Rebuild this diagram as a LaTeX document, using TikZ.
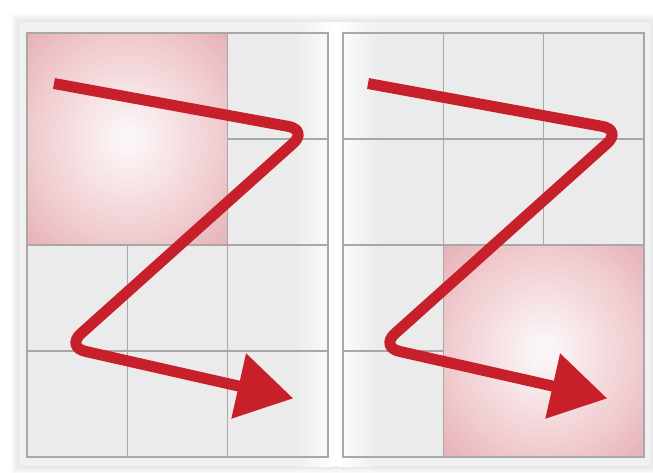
\documentclass[tikz,border=0pt]{standalone}
\usetikzlibrary{arrows.meta}
\definecolor{zred}{HTML}{C8202A}
\definecolor{pagegray}{HTML}{F1F1F1}
\definecolor{cellgray}{HTML}{EBEBEB}
\definecolor{cellwhite}{HTML}{FAFAFA}
\definecolor{gridline}{HTML}{A8A8A8}
\definecolor{pinkcenter}{HTML}{FBF4F5}
\definecolor{pinkedge}{HTML}{EFC8CC}
\definecolor{pinkcorner}{HTML}{E5AFB5}
\pgfdeclareradialshading{pinkglow}{\pgfpoint{0bp}{0bp}}{color(0bp)=(pinkcenter);
  color(3bp)=(pinkcenter); color(25bp)=(pinkedge); color(36bp)=(pinkcorner);
  color(50bp)=(pinkcorner)}

\begin{document}
\begin{tikzpicture}[
      x=0.5pt, y=-0.5pt,
      cell/.style={draw=gridline, line width=0.6pt},
      glow/.style={shading=pinkglow, draw=gridline, line width=0.6pt},
      zarrow/.style={draw=zred, line width=5.5pt, rounded corners=10pt,
        -{Triangle[length=28pt, width=32pt]}}
    ]
      \useasboundingbox (0,0) rectangle (653,472);
      \fill[white] (0,0) rectangle (653,472);

      % soft shadow under the open book
      \foreach \s in {1,...,8}
        \fill[black, opacity=0.01] ({19-\s},{22-\s}) rectangle ({651+\s},{466+\s});

      % the two pages, lighter towards the gutter
      \fill[pagegray] (19,22) rectangle (334,466);
      \shade[left color=pagegray, right color=white] (300,22) rectangle (334,466);
      \fill[white] (334,22) rectangle (338,466);
      \fill[pagegray] (338,22) rectangle (651,466);
      \shade[left color=white, right color=pagegray] (338,22) rectangle (372,466);

      % cell backgrounds
      \fill[cellgray] (27,33) rectangle (328,457);
      \shade[left color=cellgray, right color=cellwhite] (292,33) rectangle (328,457);
      \fill[cellgray] (343,33) rectangle (644,457);
      \shade[left color=cellwhite, right color=cellgray] (343,33) rectangle (380,457);

      % 3 x 4 grids
      \foreach \c in {0,1,2}
        \foreach \r in {0,...,3} {
          \draw[cell] ({27+\c*100.33},{33+\r*106}) rectangle ++(100.33,106);
          \draw[cell] ({343+\c*100.33},{33+\r*106}) rectangle ++(100.33,106);
        }

      % highlighted blocks
      \path[glow] (27,33) rectangle (227.7,245);
      \path[glow] (443.3,245) rectangle (644,457);

      % left Z
      \coordinate (lstart) at (54,83.5);
      \coordinate (lturn) at (308,130);
      \coordinate (lbend) at (66,347);
      \coordinate (ltip) at (293.3,398.4);
      \draw[zarrow] (lstart) -- (lturn) -- (lbend) -- (ltip);

      % right Z
      \coordinate (rstart) at (368,83.5);
      \coordinate (rturn) at (622,130);
      \coordinate (rbend) at (380,347);
      \coordinate (rtip) at (607.3,398.4);
      \draw[zarrow] (rstart) -- (rturn) -- (rbend) -- (rtip);
    \end{tikzpicture}
\end{document}
